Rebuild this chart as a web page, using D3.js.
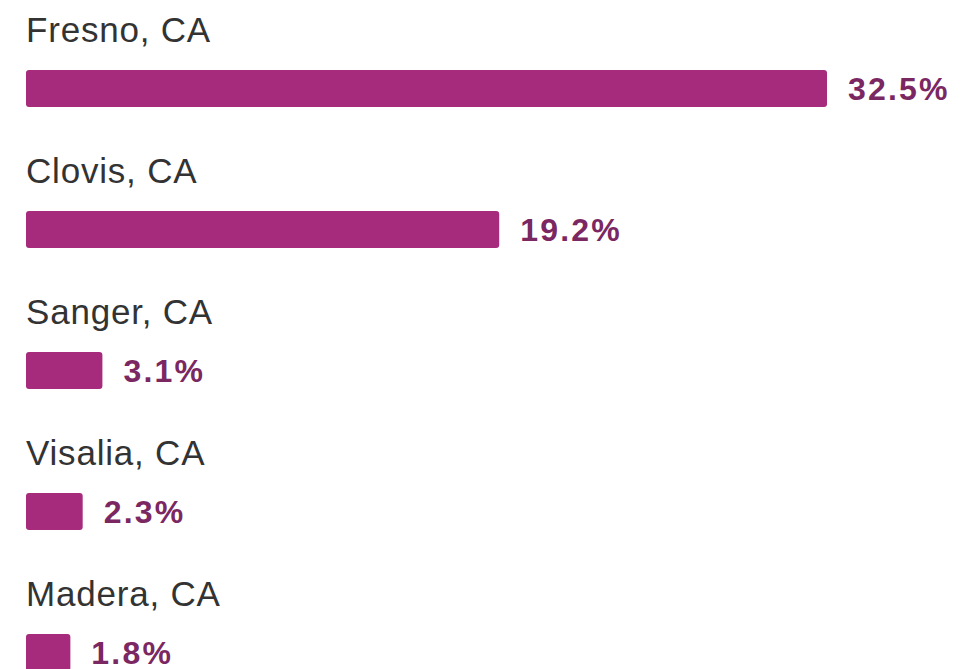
<!DOCTYPE html>
<html>
<head>
<meta charset="utf-8">
<script src="https://cdn.jsdelivr.net/npm/d3@7"></script>
<style>
  html, body { margin: 0; padding: 0; background: #fff; }
  svg { display: block; }
</style>
</head>
<body>
<svg id="chart"></svg>
<script>
const cities = ['Fresno, CA', 'Clovis, CA', 'Sanger, CA', 'Visalia, CA', 'Madera, CA'];
const shares = [32.5, 19.2, 3.1, 2.3, 1.8];
const valueLabels = ['32.5%', '19.2%', '3.1%', '2.3%', '1.8%'];

const width = 961;
const height = 669;

const rows = cities.map((c, i) => ({ city: c, value: shares[i], label: valueLabels[i] }));

const svg = d3.select('#chart')
    .attr('width', width)
    .attr('height', height);

// each row = label on top, bar underneath
const y = d3.scaleBand()
    .domain(cities)
    .range([0, 141 * cities.length])
    .padding(0);

const x = d3.scaleLinear()
    .domain([0, d3.max(shares)])
    .range([26, 827]);

const barH = 37;

const row = svg.selectAll('g.row')
    .data(rows)
    .join('g')
    .attr('class', 'row')
    .attr('transform', d => `translate(0, ${y(d.city)})`);

row.append('text')
    .attr('x', 26)
    .attr('y', 42)
    .attr('fill', '#333333')
    .style('font-family', '"Liberation Sans", Arial, sans-serif')
    .style('font-size', '35px')
    .style('letter-spacing', '0.8px')
    .text(d => d.city);

row.append('rect')
    .attr('x', x(0))
    .attr('y', 70)
    .attr('width', d => x(d.value) - x(0))
    .attr('height', barH)
    .attr('rx', 3)
    .attr('fill', '#a62b7d');

row.append('text')
    .attr('x', d => x(d.value) + 21)
    .attr('y', 70 + barH / 2 + 11)
    .attr('fill', '#7b2762')
    .style('font-family', '"Liberation Sans", Arial, sans-serif')
    .style('font-size', '32px')
    .style('font-weight', 'bold')
    .style('letter-spacing', '2.2px')
    .text(d => d.label);
</script>
</body>
</html>
